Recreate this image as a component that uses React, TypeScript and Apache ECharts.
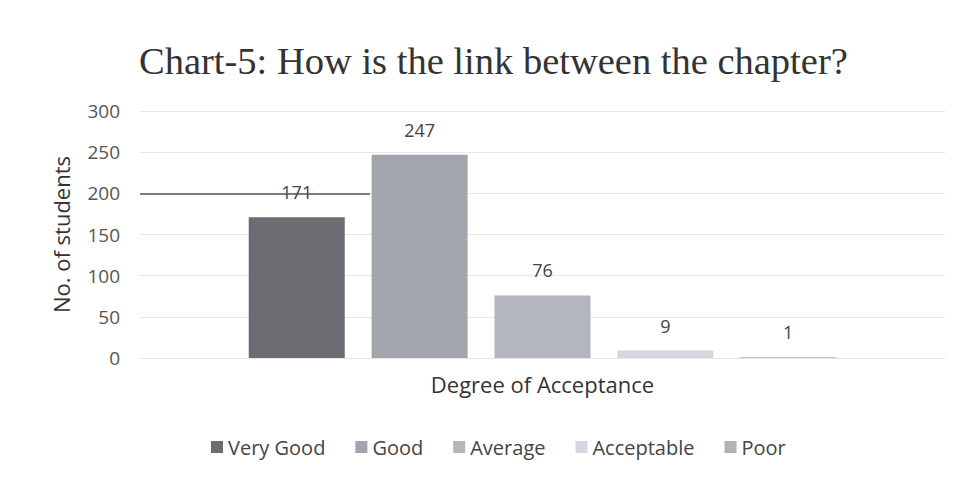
import React, { useEffect, useRef } from "react";
import * as echarts from "echarts";

const categories = ["Degree of Acceptance"];
const seriesNames = ["Very Good", "Good", "Average", "Acceptable", "Poor"];
const seriesValues = [171, 247, 76, 9, 1];
const seriesColors = ["#6c6d72", "#a2a5ac", "#b3b6bd", "#d5d7df", "#b2b2ba"];
const yTicks = { min: 0, max: 300, interval: 50 };

const FONT = "'Open Sans', 'Liberation Sans', sans-serif";

export default function App() {
  const ref = useRef<HTMLDivElement>(null);
  useEffect(() => {
    if (!ref.current) return;
    const chart = echarts.init(ref.current, undefined, { renderer: "svg" });
    chart.setOption({
      animation: false,
      backgroundColor: "#ffffff",
      title: {
        text: "Chart-5: How is the link between the chapter?",
        left: 134,
        top: 36,
        textStyle: { fontFamily: "'Liberation Serif', serif", fontSize: 38.5, fontWeight: "normal", color: "#333" },
      },
      legend: {
        bottom: 20,
        left: 206,
        itemWidth: 12,
        itemHeight: 12,
        itemGap: 30,
        icon: "rect",
        textStyle: { fontFamily: FONT, fontSize: 20, color: "#444" },
        data: seriesNames,
      },
      grid: { left: 140, right: 12, top: 111, bottom: 124 },
      xAxis: {
        type: "category",
        data: categories,
        name: categories[0],
        nameLocation: "middle",
        nameGap: 15,
        nameTextStyle: { fontFamily: FONT, fontSize: 22, color: "#333" },
        axisLabel: { show: false },
        axisTick: { show: false },
        axisLine: { lineStyle: { color: "#e4e4e4" } },
      },
      yAxis: {
        type: "value",
        min: yTicks.min,
        max: yTicks.max,
        interval: yTicks.interval,
        name: "No. of students",
        nameLocation: "middle",
        nameGap: 68,
        nameTextStyle: { fontFamily: FONT, fontSize: 22, color: "#333" },
        axisLabel: { fontFamily: FONT, fontSize: 19, color: "#555", margin: 20 },
        splitLine: { lineStyle: { color: "#e6e6e6" } },
        axisLine: { show: false },
        axisTick: { show: false },
      },
      series: seriesNames.map((name, i) => ({
        name,
        type: "bar",
        barWidth: 96,
        barGap: "28%",
        data: [seriesValues[i]],
        itemStyle: { color: seriesColors[i] },
        label: {
          show: true,
          position: "top",
          distance: 16,
          fontFamily: FONT,
          fontSize: 18,
          color: "#444",
        },
      })),
      graphic: [
        {
          type: "line",
          shape: { x1: 140, y1: 194, x2: 370, y2: 194 },
          style: { stroke: "#555", lineWidth: 1.5 },
          z: 100,
        },
      ],
    });
    return () => chart.dispose();
  }, []);
  return (
    <div
      ref={ref}
      style={{ position: "absolute", left: 0, top: 0, width: 957, height: 482 }}
    />
  );
}
